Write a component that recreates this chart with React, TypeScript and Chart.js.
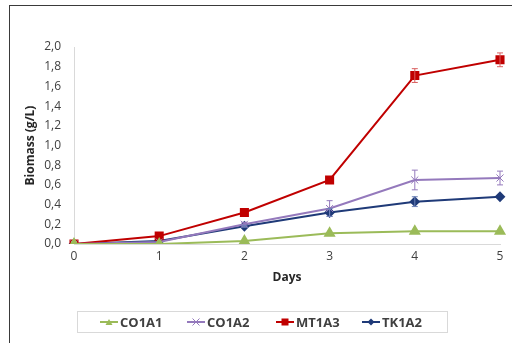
import React, { useEffect, useRef } from "react";
import { Chart, registerables } from "chart.js";

Chart.register(...registerables);

const days = ["0", "1", "2", "3", "4", "5"];
const co1a1 = [0, 0, 0.03, 0.11, 0.13, 0.13];
const co1a2 = [0, 0.02, 0.2, 0.36, 0.65, 0.67];
const mt1a3 = [0, 0.08, 0.32, 0.65, 1.71, 1.87];
const tk1a2 = [0, 0.03, 0.18, 0.32, 0.43, 0.48];
const co1a1Err = [0, 0, 0, 0, 0, 0];
const co1a2Err = [0, 0, 0.02, 0.08, 0.1, 0.07];
const mt1a3Err = [0, 0, 0, 0, 0.07, 0.07];
const tk1a2Err = [0, 0, 0.01, 0.04, 0.05, 0];

const C_GREEN = "#9BBB59";
const C_PURPLE = "#9479BC";
const C_RED = "#C00000";
const C_NAVY = "#1F3A78";
const FONT = "'Open Sans', 'Liberation Sans', sans-serif";

const errorBars = {
  id: "errorBars",
  afterDatasetsDraw(chart: any) {
    const ctx = chart.ctx;
    const ys = chart.scales.y;
    chart.data.datasets.forEach((ds: any, i: number) => {
      const meta = chart.getDatasetMeta(i);
      if (!ds.errors) return;
      ctx.save();
      ctx.strokeStyle = ds.errColor || ds.borderColor;
      ctx.lineWidth = 1;
      meta.data.forEach((pt: any, j: number) => {
        const e = ds.errors[j];
        if (!e) return;
        const v = ds.data[j];
        const y1 = ys.getPixelForValue(v + e);
        const y2 = ys.getPixelForValue(v - e);
        const x = pt.x;
        ctx.beginPath();
        ctx.moveTo(x, y1);
        ctx.lineTo(x, y2);
        ctx.moveTo(x - 3, y1);
        ctx.lineTo(x + 3, y1);
        ctx.moveTo(x - 3, y2);
        ctx.lineTo(x + 3, y2);
        ctx.stroke();
      });
      ctx.restore();
    });
  },
};

function Marker({ kind, color }: { kind: string; color: string }) {
  let m: any = null;
  if (kind === "tri") m = <polygon points="9,2 12.5,8 5.5,8" fill={color} />;
  if (kind === "x")
    m = (
      <path d="M5.5,1.5 L12.5,8.5 M12.5,1.5 L5.5,8.5" stroke={color} strokeWidth={1} />
    );
  if (kind === "sq") m = <rect x={5.5} y={1.5} width={7} height={7} fill={color} />;
  if (kind === "dia") m = <polygon points="9,1.5 12.5,5 9,8.5 5.5,5" fill={color} />;
  return (
    <svg width={18} height={10} style={{ display: "block" }}>
      <line x1={0} y1={5} x2={18} y2={5} stroke={color} strokeWidth={2} />
      {m}
    </svg>
  );
}

export default function App() {
  const ref = useRef<HTMLCanvasElement>(null);
  useEffect(() => {
    const chart = new Chart(ref.current as HTMLCanvasElement, {
      type: "line",
      data: {
        labels: days,
        datasets: [
          {
            label: "CO1A1",
            data: co1a1,
            errors: co1a1Err,
            borderColor: C_GREEN,
            backgroundColor: C_GREEN,
            borderWidth: 2,
            pointStyle: "triangle",
            pointRadius: 5,
          } as any,
          {
            label: "CO1A2",
            data: co1a2,
            errors: co1a2Err,
            borderColor: C_PURPLE,
            backgroundColor: C_PURPLE,
            borderWidth: 2,
            pointStyle: "crossRot",
            pointRadius: 5,
            pointBorderWidth: 1,
          } as any,
          {
            label: "MT1A3",
            data: mt1a3,
            errors: mt1a3Err,
            errColor: "#D96060",
            borderColor: C_RED,
            backgroundColor: C_RED,
            borderWidth: 2,
            pointStyle: "rect",
            pointRadius: 5,
          } as any,
          {
            label: "TK1A2",
            data: tk1a2,
            errors: tk1a2Err,
            errColor: "#6C82B8",
            borderColor: C_NAVY,
            backgroundColor: C_NAVY,
            borderWidth: 2,
            pointStyle: "rectRot",
            pointRadius: 4,
          } as any,
        ],
      },
      options: {
        animation: false,
        responsive: false,
        maintainAspectRatio: false,
        layout: { padding: { left: 0, right: 12, top: 47, bottom: 53 } },
        plugins: { legend: { display: false }, tooltip: { enabled: false } },
        scales: {
          x: {
            type: "category",
            offset: false,
            grid: { display: false, drawTicks: false },
            border: { display: true, color: "#D9D9D9", width: 1 },
            ticks: { color: "#404040", font: { family: FONT, size: 12 }, padding: 5 },
            title: {
              display: true,
              text: "Days",
              color: "#262626",
              font: { family: FONT, size: 12, weight: "bold" },
              padding: { top: 0, bottom: 5 },
            },
            afterFit: (s: any) => {
              s.height = 46;
            },
          },
          y: {
            min: 0,
            max: 2,
            grid: { display: false, drawTicks: false },
            border: { display: true, color: "#D9D9D9", width: 1 },
            ticks: {
              stepSize: 0.2,
              color: "#404040",
              font: { family: FONT, size: 12 },
              padding: 13,
              callback: (v: any) => Number(v).toFixed(1).replace(".", ","),
            },
            title: {
              display: true,
              text: "Biomass (g/L)",
              color: "#262626",
              font: { family: FONT, size: 12, weight: "bold" },
              padding: { top: 23, bottom: 0 },
            },
            afterFit: (s: any) => {
              s.width = 74;
            },
          },
        },
      } as any,
      plugins: [errorBars],
    });
    return () => chart.destroy();
  }, []);

  const items = [
    { label: "CO1A1", kind: "tri", color: C_GREEN, left: 100 },
    { label: "CO1A2", kind: "x", color: C_PURPLE, left: 187 },
    { label: "MT1A3", kind: "sq", color: C_RED, left: 276 },
    { label: "TK1A2", kind: "dia", color: C_NAVY, left: 362 },
  ];

  return (
    <div
      style={{
        position: "fixed",
        left: 0,
        top: 0,
        width: 512,
        height: 343,
        background: "#fff",
        overflow: "hidden",
      }}
    >
      <div
        style={{
          position: "absolute",
          left: 9,
          top: 5,
          width: 600,
          height: 400,
          borderLeft: "1px solid #3a3a3a",
          borderTop: "1px solid #3a3a3a",
        }}
      />
      <canvas
        ref={ref}
        width={512}
        height={343}
        style={{ position: "absolute", left: 0, top: 0, width: 512, height: 343 }}
      />
      <div
        style={{
          position: "absolute",
          left: 77,
          top: 311,
          width: 371,
          height: 22,
          border: "1px solid #D9D9D9",
          boxSizing: "border-box",
        }}
      />
      {items.map((it) => (
        <div
          key={it.label}
          style={{
            position: "absolute",
            left: it.left,
            top: 315,
            height: 14,
            display: "flex",
            alignItems: "center",
            fontFamily: FONT,
            fontSize: 13,
            fontWeight: "bold",
            color: "#404040",
            whiteSpace: "nowrap",
          }}
        >
          <Marker kind={it.kind} color={it.color} />
          <span style={{ marginLeft: 2 }}>{it.label}</span>
        </div>
      ))}
    </div>
  );
}
